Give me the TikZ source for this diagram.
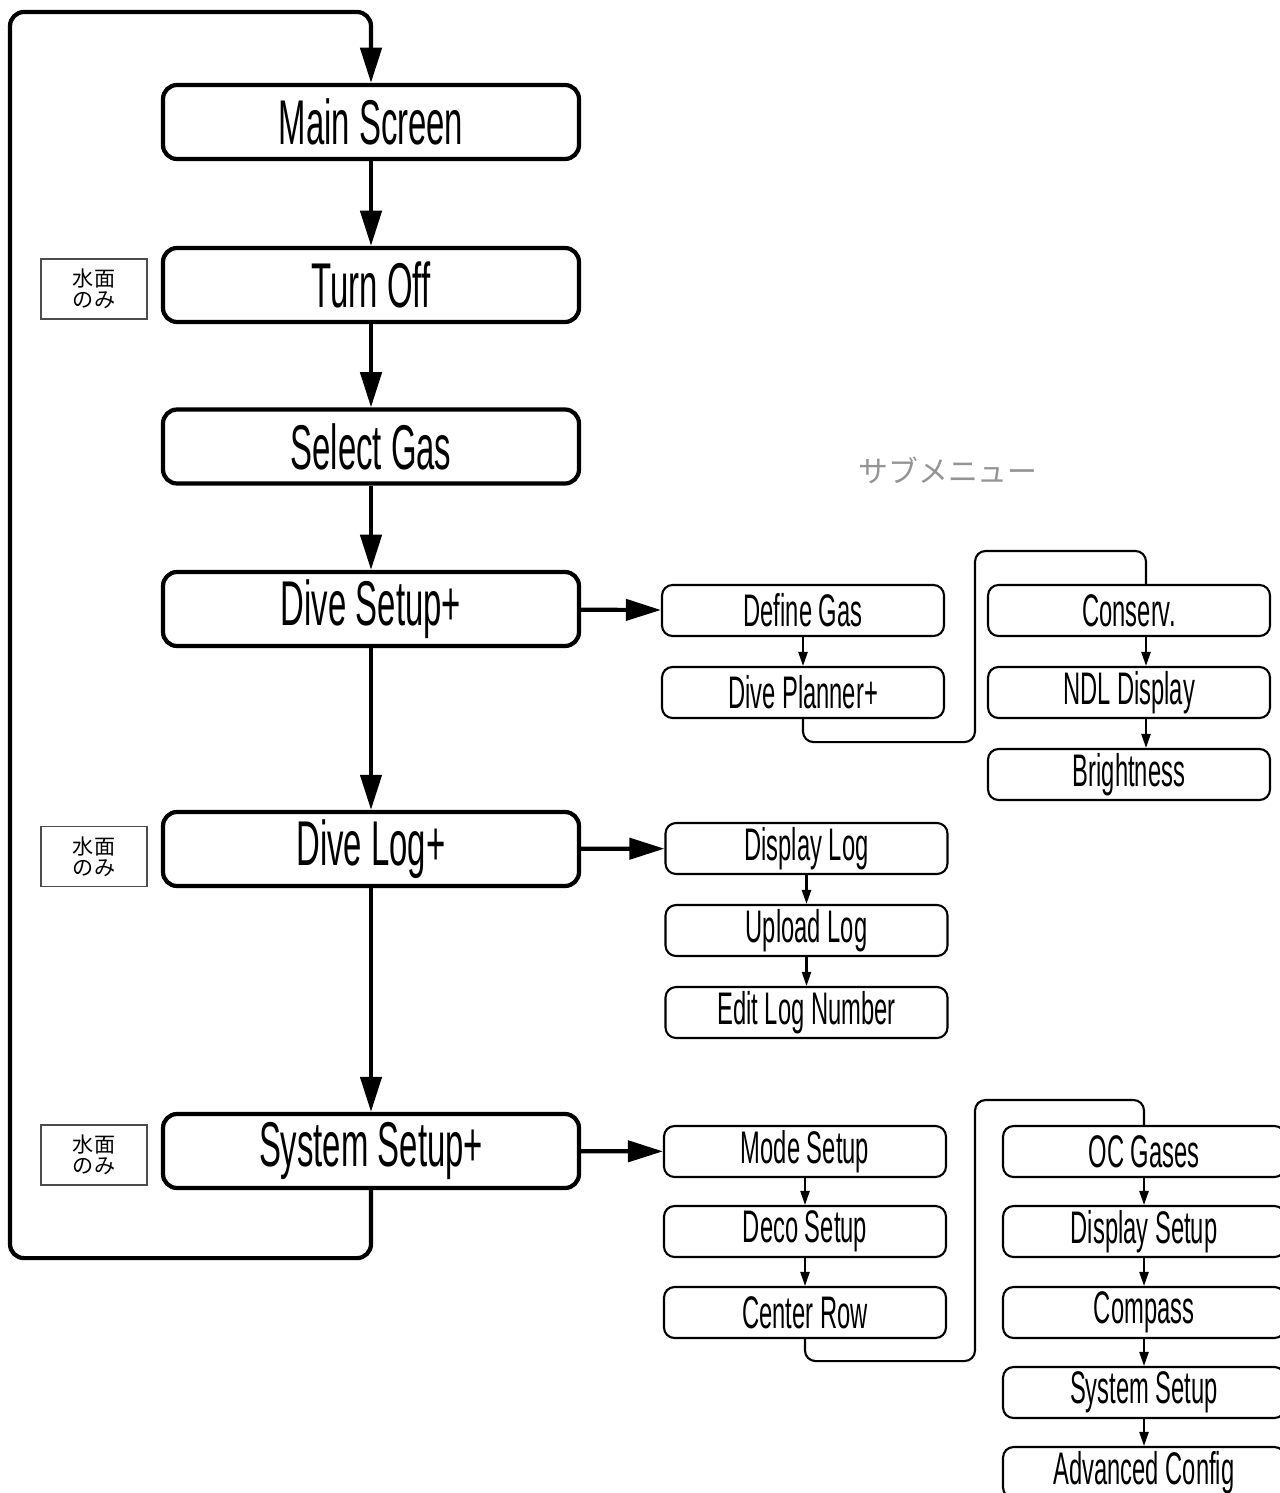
\documentclass[tikz,border=0pt]{standalone}
\usepackage{fontspec}
\setmainfont{Liberation Sans}[FakeStretch=0.52]
\newfontfamily\jpfont{Noto Sans CJK JP}
\usetikzlibrary{arrows.meta}
\usetikzlibrary{positioning}

\begin{document}
\begin{tikzpicture}[
    mainbox/.style={draw, line width=1.2pt, rounded corners=4pt, minimum width=4.16cm, minimum height=0.74cm, inner sep=0, font=\fontsize{18}{18}\selectfont},
    subbox/.style={draw, line width=0.6pt, rounded corners=3pt, minimum width=2.82cm, minimum height=0.51cm, inner sep=0, font=\fontsize{13}{13}\selectfont},
    tagbox/.style={draw=black!70, line width=0.3pt, minimum width=1.06cm, minimum height=0.6cm, inner sep=0, align=center, font=\jpfont\fontsize{6}{6}\selectfont},
    bigarrow/.style={line width=1.2pt, -{Triangle[length=10pt,width=6pt]}},
    smallarrow/.style={line width=0.6pt, -{Triangle[length=4pt,width=2.6pt]}},
    loopline/.style={line width=1.2pt, rounded corners=4pt},
    subline/.style={line width=0.6pt, rounded corners=3pt}]
    \useasboundingbox (0,0) rectangle (12.79,-14.93);

    % Main menu
    \node[mainbox] (main) at (3.71,-1.22) {Main Screen};
    \node[mainbox] (off) at (3.71,-2.85) {Turn Off};
    \node[mainbox] (gas) at (3.71,-4.465) {Select Gas};
    \node[mainbox] (setup) at (3.71,-6.09) {Dive Setup+};
    \node[mainbox] (log) at (3.71,-8.49) {Dive Log+};
    \node[mainbox] (sys) at (3.71,-11.51) {System Setup+};

    \node[tagbox] (offtag) at (0.94,-2.89) {水面\\のみ};
    \node[tagbox] (logtag) at (0.94,-8.565) {水面\\のみ};
    \node[tagbox] (systag) at (0.94,-11.55) {水面\\のみ};

    \draw[bigarrow] (main) -- (off);
    \draw[bigarrow] (off) -- (gas);
    \draw[bigarrow] (gas) -- (setup);
    \draw[bigarrow] (setup) -- (log);
    \draw[bigarrow] (log) -- (sys);
    \draw[loopline, -{Triangle[length=10pt,width=6pt]}] (sys.south) -- ++(0,-0.68) -| (0.10,-0.12) -| (main.north);

    \node[text=black!42, font=\jpfont\fontsize{8.5}{8.5}\selectfont] (subtitle) at (9.48,-4.70) {サブメニュー};

    % Dive Setup+
    \node[subbox] (defgas) at (8.03,-6.105) {Define Gas};
    \node[subbox] (planner) at (8.03,-6.925) {Dive Planner+};
    \node[subbox] (conserv) at (11.29,-6.105) {Conserv.};
    \node[subbox] (ndl) at (11.29,-6.925) {NDL Display};
    \node[subbox] (bright) at (11.29,-7.745) {Brightness};

    \draw[bigarrow] (setup) -- (defgas);
    \draw[smallarrow] (defgas) -- (planner);
    \draw[subline] (planner.south) -- ++(0,-0.23) -| (9.75,-5.51) -| ([xshift=0.17cm]conserv.north);
    \draw[smallarrow] ([xshift=0.17cm]conserv.south) -- ([xshift=0.17cm]ndl.north);
    \draw[smallarrow] ([xshift=0.17cm]ndl.south) -- ([xshift=0.17cm]bright.north);

    % Dive Log+
    \node[subbox] (displog) at (8.065,-8.485) {Display Log};
    \node[subbox] (upload) at (8.065,-9.305) {Upload Log};
    \node[subbox] (editlog) at (8.065,-10.125) {Edit Log Number};

    \draw[bigarrow] (log) -- (displog);
    \draw[smallarrow] (displog) -- (upload);
    \draw[smallarrow] (upload) -- (editlog);

    % System Setup+
    \node[subbox] (mode) at (8.05,-11.515) {Mode Setup};
    \node[subbox] (deco) at (8.05,-12.315) {Deco Setup};
    \node[subbox] (center) at (8.05,-13.125) {Center Row};
    \node[subbox] (ocgas) at (11.44,-11.515) {OC Gases};
    \node[subbox] (dispsetup) at (11.44,-12.315) {Display Setup};
    \node[subbox] (compass) at (11.44,-13.125) {Compass};
    \node[subbox] (syssetup) at (11.44,-13.925) {System Setup};
    \node[subbox] (advconf) at (11.44,-14.725) {Advanced Config};

    \draw[bigarrow] (sys) -- (mode);
    \draw[smallarrow] (mode) -- (deco);
    \draw[smallarrow] (deco) -- (center);
    \draw[subline] (center.south) -- ++(0,-0.22) -| (9.75,-11.00) -| (ocgas.north);
    \draw[smallarrow] (ocgas) -- (dispsetup);
    \draw[smallarrow] (dispsetup) -- (compass);
    \draw[smallarrow] (compass) -- (syssetup);
    \draw[smallarrow] (syssetup) -- (advconf);
\end{tikzpicture}
\end{document}
